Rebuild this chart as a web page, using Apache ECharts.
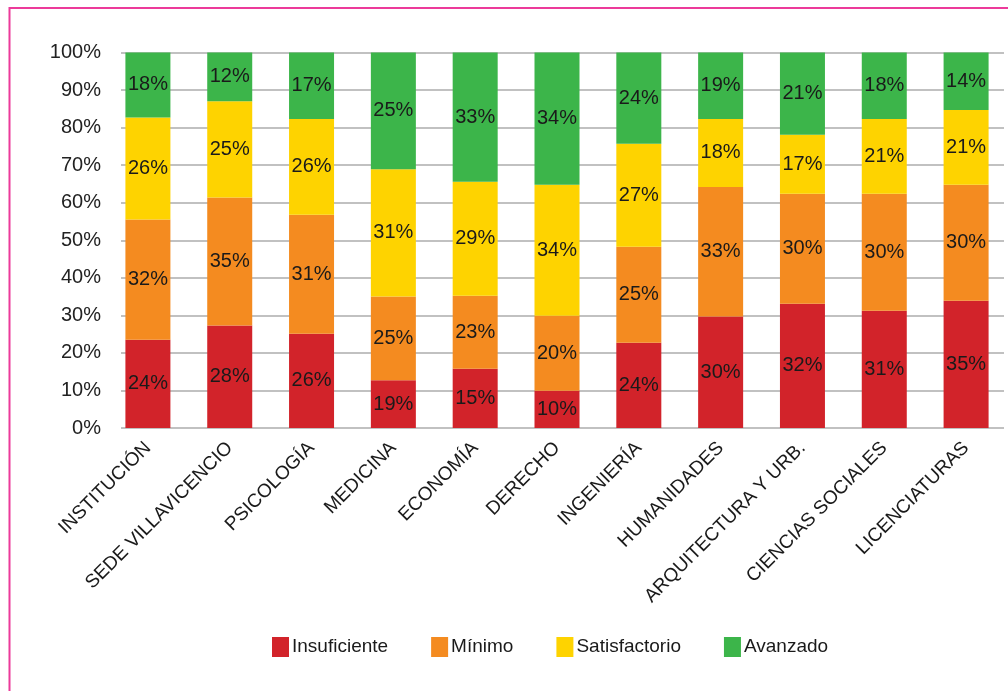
<!DOCTYPE html>
<html>
<head>
<meta charset="utf-8">
<script src="https://cdn.jsdelivr.net/npm/echarts@6/dist/echarts.min.js"></script>
<style>
html,body{margin:0;padding:0;background:#fff;}
#chart{width:1008px;height:691px;}
</style>
</head>
<body>
<div id="chart"></div>
<script>
const categories = ['INSTITUCIÓN','SEDE VILLAVICENCIO','PSICOLOGÍA','MEDICINA','ECONOMÍA','DERECHO','INGENIERÍA','HUMANIDADES','ARQUITECTURA Y URB.','CIENCIAS SOCIALES','LICENCIATURAS'];
const seriesNames = ['Insuficiente','Mínimo','Satisfactorio','Avanzado'];
// bar heights (percent of the bar)
const insuficiente  = [23.5,27.3,25.1,12.7,15.8, 9.9,22.7,29.7,33.1,31.2,33.9];
const minimo        = [32.0,34.1,31.7,22.3,19.4,20.0,25.6,34.5,29.3,31.2,30.9];
const satisfactorio = [27.2,25.6,25.5,33.9,30.4,34.9,27.4,18.1,15.7,19.9,19.9];
const avanzado      = [17.3,13.0,17.7,31.1,34.4,35.2,24.3,17.7,21.9,17.7,15.3];
// printed data labels
const insuficienteLabels  = [24,28,26,19,15,10,24,30,32,31,35];
const minimoLabels        = [32,35,31,25,23,20,25,33,30,30,30];
const satisfactorioLabels = [26,25,26,31,29,34,27,18,17,21,21];
const avanzadoLabels      = [18,12,17,25,33,34,24,19,21,18,14];
const yTickLabels = ['0%','10%','20%','30%','40%','50%','60%','70%','80%','90%','100%'];

const colors = ['#D2232A','#F48B20','#FED300','#3CB54A'];
const values = [insuficiente, minimo, satisfactorio, avanzado];
const labels = [insuficienteLabels, minimoLabels, satisfactorioLabels, avanzadoLabels];
const FONT = '"Liberation Sans", Arial, sans-serif';

const chart = echarts.init(document.getElementById('chart'), null, {renderer:'canvas'});
const series = seriesNames.map((name, i) => ({
  name: name,
  type: 'bar',
  stack: 'total',
  xAxisIndex: 0,
  yAxisIndex: 0,
  barWidth: 45,
  itemStyle: {color: colors[i]},
  label: {
    show: true,
    position: 'inside',
    color: '#1a1a1a',
    fontFamily: FONT,
    fontSize: 20,
    formatter: p => labels[i][p.dataIndex] + '%'
  },
  emphasis: {disabled: true},
  data: values[i]
}));

chart.setOption({
  animation: false,
  backgroundColor: '#ffffff',
  graphic: [{
    type: 'rect',
    shape: {x: 9.5, y: 8, width: 1200, height: 900},
    style: {fill: 'none', stroke: '#EC3A9A', lineWidth: 2},
    silent: true,
    z: 100
  }],
  legend: {
    data: seriesNames,
    left: 267,
    top: 632,
    itemWidth: 17,
    itemHeight: 20,
    itemGap: 43,
    icon: 'rect',
    textStyle: {fontFamily: FONT, fontSize: 19, color: '#1a1a1a', padding: [0,0,0,-2]}
  },
  grid: [
    {left: 107, right: 1, top: 52.5, bottom: 263, containLabel: false},
    {left: 121, right: 4, top: 52.5, bottom: 263, containLabel: false}
  ],
  xAxis: [
    {
      type: 'category', gridIndex: 0, data: categories,
      axisLine: {show: false}, axisTick: {show: false},
      axisLabel: {rotate: 45, interval: 0, margin: 17, fontFamily: FONT, fontSize: 19, color: '#1a1a1a'}
    },
    {
      type: 'category', gridIndex: 1, data: categories,
      axisLine: {show: false}, axisTick: {show: false}, axisLabel: {show: false}
    }
  ],
  yAxis: [
    {
      type: 'value', gridIndex: 0, min: 0, max: 100, interval: 10,
      axisLine: {show: false}, axisTick: {show: false}, axisLabel: {show: false}, splitLine: {show: false}
    },
    {
      type: 'value', gridIndex: 1, min: 0, max: 100, interval: 10,
      axisLine: {show: false}, axisTick: {show: false},
      axisLabel: {margin: 20, fontFamily: FONT, fontSize: 20, color: '#222',
        formatter: v => yTickLabels[Math.round(v/10)]},
      splitLine: {show: true, lineStyle: {color: '#ADADAD', width: 1.5}}
    }
  ],
  series: series
});
</script>
</body>
</html>
